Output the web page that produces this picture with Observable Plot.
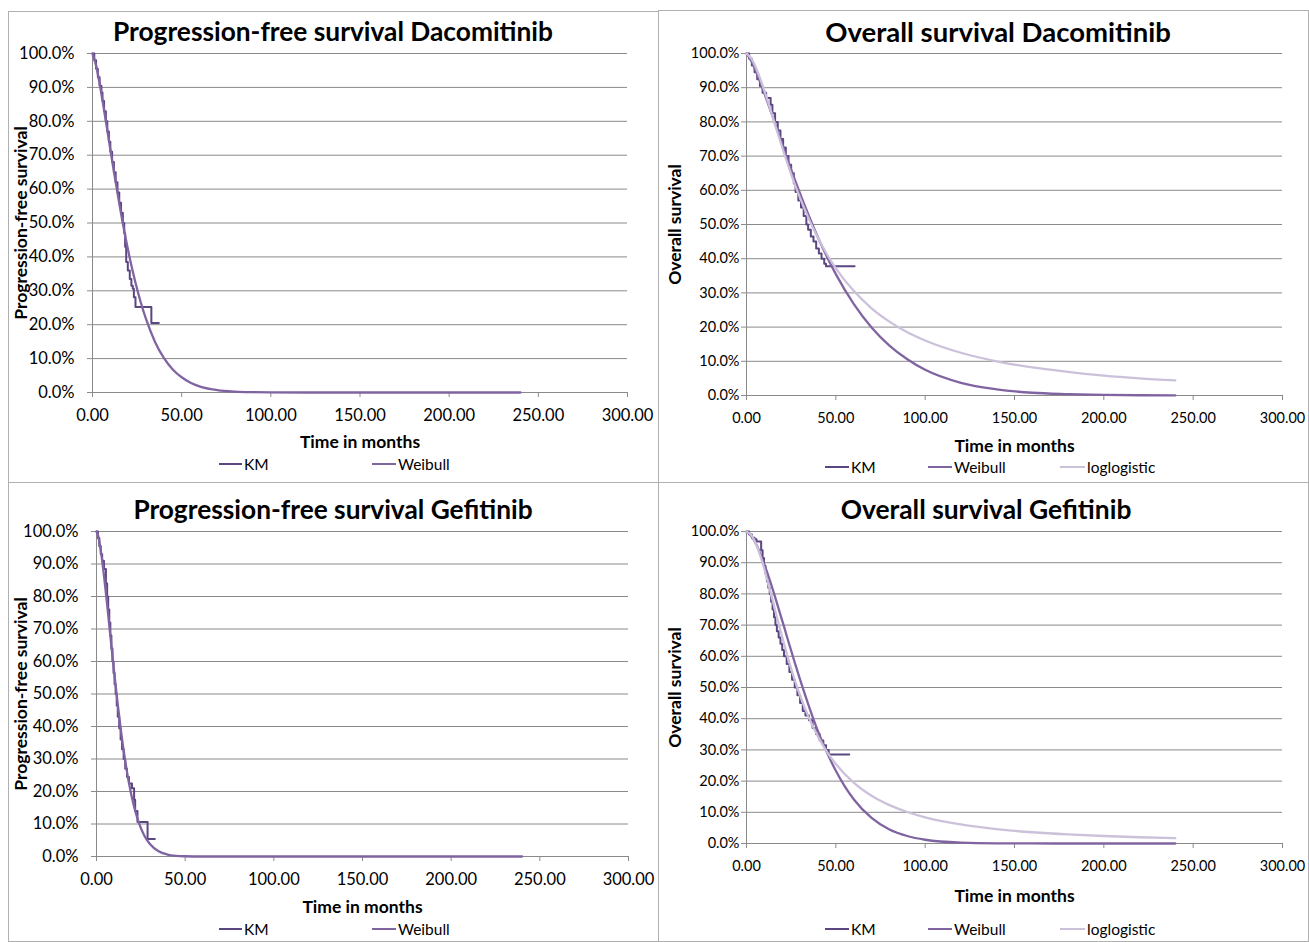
<!DOCTYPE html>
<html>
<head>
<meta charset="utf-8">
<script src="https://cdn.jsdelivr.net/npm/d3@7"></script>
<script src="https://cdn.jsdelivr.net/npm/@observablehq/plot@0.6"></script>
<style>
  body { margin: 0; background: #fff; }
  #root { position: relative; width: 1309px; height: 942px; font-family: Lato, "Open Sans", sans-serif; color: #000; overflow: hidden; }
  .border { position: absolute; border: 1px solid #b0b0b0; box-sizing: border-box; }
  .title { position: absolute; transform: translate(-50%, -50%); font-weight: bold; white-space: nowrap; }
  .chart { position: absolute; }
  .leg { position: absolute; transform: translateY(-50%); display: flex; align-items: center; font-size: 15.5px; white-space: nowrap; }
  .leg span.sw { display: inline-block; height: 2.5px; margin-right: 2px; }
</style>
</head>
<body>
<div id="root"></div>
<script>
// ---------- data ----------
const xTicks = [0, 50, 100, 150, 200, 250, 300];
const yTicks = [0, 0.1, 0.2, 0.3, 0.4, 0.5, 0.6, 0.7, 0.8, 0.9, 1.0];
const seriesNames = ["KM", "Weibull", "loglogistic"];
const seriesColors = ["#5a4681", "#8064a2", "#ccc1da"];

// Progression-free survival Dacomitinib
const pfsDacoKM_t = [0, 1, 2, 3, 4, 5, 5.6, 6.5, 7.5, 8.3, 9.2, 10, 11, 12, 13, 14, 15, 16, 17, 17.8, 18.3, 18.9, 19.8, 20.9, 21.8, 22.6, 23.2, 24.1, 33.0, 37.2];
const pfsDacoKM_s = [1, 0.98, 0.955, 0.93, 0.905, 0.885, 0.86, 0.83, 0.80, 0.77, 0.74, 0.71, 0.68, 0.65, 0.62, 0.59, 0.56, 0.53, 0.50, 0.47, 0.43, 0.385, 0.36, 0.335, 0.315, 0.306, 0.281, 0.252, 0.205, 0.205];
const pfsDacoWeib_t = [0, 2, 4, 6, 8, 10, 12, 15, 18, 21, 24, 27, 30, 35, 40, 45, 50, 55, 60, 70, 80, 90, 100, 120, 150, 200, 240];
const pfsDacoWeib_s = [1, 0.965, 0.911, 0.849, 0.784, 0.717, 0.652, 0.558, 0.471, 0.394, 0.326, 0.267, 0.217, 0.150, 0.102, 0.068, 0.045, 0.029, 0.018, 0.007, 0.0025, 0.0009, 0.0003, 0, 0, 0, 0];

// Overall survival Dacomitinib
const osDacoKM_t = [0, 1.5, 3, 4.5, 6, 7.5, 9, 11, 13.5, 14.5, 16, 17.5, 19, 20.5, 22, 23.5, 25, 26.5, 27.5, 29, 30.5, 32, 33.5, 34.5, 36, 37.5, 39, 40.5, 42, 43.5, 44.5, 60.5];
const osDacoKM_s = [1, 0.985, 0.965, 0.945, 0.925, 0.905, 0.885, 0.87, 0.85, 0.825, 0.80, 0.775, 0.75, 0.725, 0.70, 0.675, 0.65, 0.62, 0.595, 0.57, 0.55, 0.525, 0.50, 0.485, 0.465, 0.45, 0.43, 0.415, 0.40, 0.385, 0.378, 0.378];
const osDacoFit_t = [0, 3, 6, 9, 12, 15, 18, 21, 24, 27, 30, 35, 40, 45, 50, 60, 70, 80, 90, 100, 120, 140, 160, 180, 200, 220, 240];
const osDacoWeib_s = [1, 0.975, 0.939, 0.898, 0.854, 0.810, 0.764, 0.719, 0.675, 0.632, 0.590, 0.524, 0.462, 0.406, 0.355, 0.268, 0.199, 0.146, 0.106, 0.075, 0.037, 0.018, 0.008, 0.004, 0.0016, 0.0007, 0.0003];
const osDacoLogl_s = [1, 0.983, 0.949, 0.907, 0.859, 0.809, 0.758, 0.709, 0.662, 0.618, 0.577, 0.515, 0.461, 0.413, 0.372, 0.306, 0.255, 0.216, 0.185, 0.161, 0.125, 0.100, 0.082, 0.069, 0.058, 0.050, 0.044];

// Progression-free survival Gefitinib
const pfsGefKM_t = [0, 0.8, 1.6, 2.4, 3.2, 4.2, 5.3, 6, 6.6, 7.2, 7.8, 8.4, 9, 9.6, 10.2, 10.8, 11.4, 12, 12.8, 13.6, 14.4, 15.3, 16.2, 17.2, 18.3, 20, 21.2, 21.8, 23.1, 28.8, 32.9];
const pfsGefKM_s = [1, 0.98, 0.955, 0.93, 0.91, 0.885, 0.84, 0.80, 0.76, 0.72, 0.68, 0.64, 0.60, 0.565, 0.53, 0.50, 0.465, 0.43, 0.395, 0.36, 0.33, 0.30, 0.27, 0.245, 0.225, 0.21, 0.175, 0.14, 0.106, 0.054, 0.054];
const pfsGefWeib_t = [0, 1, 2, 3, 4, 5, 6, 7, 8, 9, 10, 12, 14, 16, 18, 20, 22, 24, 27, 30, 35, 40, 45, 50, 60, 80, 120, 160, 200, 240];
const pfsGefWeib_s = [1, 0.985, 0.956, 0.918, 0.874, 0.826, 0.775, 0.722, 0.669, 0.617, 0.565, 0.467, 0.378, 0.301, 0.235, 0.181, 0.137, 0.102, 0.064, 0.039, 0.016, 0.006, 0.002, 0.0007, 0, 0, 0, 0, 0, 0];

// Overall survival Gefitinib
const osGefKM_t = [0, 1.5, 3, 4.5, 5.6, 8.2, 9, 9.8, 10.6, 11.4, 12.2, 13, 13.8, 14.6, 15.4, 16.2, 17, 18, 19, 20, 21, 22.5, 24, 25.5, 27, 28.5, 30, 31.5, 33, 35, 37, 39, 41, 43, 44.5, 46, 57.5];
const osGefKM_s = [1, 0.99, 0.98, 0.975, 0.968, 0.94, 0.915, 0.89, 0.865, 0.84, 0.82, 0.80, 0.775, 0.75, 0.725, 0.70, 0.68, 0.66, 0.64, 0.62, 0.60, 0.575, 0.55, 0.525, 0.50, 0.475, 0.45, 0.425, 0.41, 0.395, 0.37, 0.35, 0.33, 0.315, 0.30, 0.285, 0.285];
const osGefWeib_t = [0, 3, 6, 9, 12, 15, 18, 21, 24, 27, 30, 35, 40, 45, 50, 55, 60, 70, 80, 90, 100, 120, 140, 160, 180, 200, 220, 240];
const osGefWeib_s = [1, 0.984, 0.952, 0.910, 0.862, 0.809, 0.752, 0.695, 0.637, 0.580, 0.525, 0.439, 0.360, 0.292, 0.233, 0.183, 0.142, 0.082, 0.045, 0.024, 0.012, 0.0027, 0.0005, 0.0001, 0, 0, 0, 0];
const osGefLogl_t = [0, 3, 6, 9, 12, 15, 18, 21, 24, 27, 30, 35, 40, 45, 50, 60, 70, 80, 90, 100, 120, 140, 160, 180, 200, 220, 240];
const osGefLogl_s = [1, 0.986, 0.950, 0.899, 0.837, 0.771, 0.704, 0.640, 0.579, 0.524, 0.474, 0.402, 0.343, 0.294, 0.255, 0.195, 0.153, 0.123, 0.101, 0.084, 0.061, 0.046, 0.036, 0.029, 0.024, 0.020, 0.017];

// ---------- helpers ----------
const rows = (ts, ss) => ts.map((t, i) => ({t, s: ss[i]}));
const root = document.getElementById("root");

function addDiv(cls, style, html) {
  const d = document.createElement("div");
  d.className = cls;
  Object.assign(d.style, style);
  if (html != null) d.innerHTML = html;
  root.appendChild(d);
  return d;
}

function panel(cfg) {
  addDiv("border", {left: cfg.box[0] + "px", top: cfg.box[1] + "px", width: cfg.box[2] + "px", height: cfg.box[3] + "px"});
  addDiv("title", {left: cfg.titleX + "px", top: cfg.titleY + "px", fontSize: cfg.titleSize + "px"}, cfg.title);

  const lines = cfg.series.map((sr) => Plot.line(sr.data, {
    x: "t", y: "s",
    curve: sr.step ? "step-after" : "monotone-x",
    stroke: seriesColors[sr.k],
    strokeWidth: sr.step ? 2 : 2.3
  }));

  const chart = Plot.plot({
    width: cfg.w, height: cfg.h,
    marginLeft: cfg.mL, marginRight: cfg.mR, marginTop: cfg.mT, marginBottom: cfg.mB,
    style: {fontFamily: "Lato, 'Open Sans', sans-serif", fontSize: cfg.tickSize + "px", color: "#000", background: "transparent", overflow: "visible"},
    x: {domain: [0, 300]},
    y: {domain: [0, 1]},
    marks: [
      Plot.gridY(yTicks, {stroke: "#8a8a8a", strokeOpacity: 1, strokeWidth: 1}),
      Plot.axisY(yTicks, {tickFormat: d3.format(".1%"), tickSize: 5, tickPadding: cfg.yPad, label: null, stroke: "#8a8a8a"}),
      Plot.axisX(xTicks, {tickFormat: d3.format(".2f"), tickSize: 5, tickPadding: 12, label: null, stroke: "#8a8a8a"}),
      Plot.ruleX([0], {stroke: "#8a8a8a"}),
      Plot.ruleY([0], {stroke: "#8a8a8a"}),
      ...lines,
      Plot.text(["Time in months"], {frameAnchor: "bottom", textAnchor: "middle", dy: cfg.xLabDy, fontWeight: "bold", fontSize: 17.5}),
      Plot.text([cfg.yLabel], {frameAnchor: "left", textAnchor: "middle", dx: -cfg.yLabDx, rotate: -90, fontWeight: "bold", fontSize: 17.5})
    ]
  });
  const holder = addDiv("chart", {left: cfg.left + "px", top: cfg.top + "px"});
  holder.appendChild(chart);

  cfg.legend.forEach((it) => {
    const d = addDiv("leg", {left: it.x + "px", top: cfg.legY + "px"});
    d.innerHTML = `<span class="sw" style="width:${it.w}px;background:${seriesColors[it.k]}"></span><span>${seriesNames[it.k]}</span>`;
  });
}

// Top-left
panel({
  box: [8, 11, 651, 472], title: "Progression-free survival Dacomitinib", titleX: 333, titleY: 31, titleSize: 26.3, tickSize: 16.5,
  left: 8, top: 45, w: 650, h: 410, mL: 84, mR: 31, mT: 8, mB: 63, yPad: 13,
  xLabDy: 55, yLabel: "Progression-free survival", yLabDx: 71,
  series: [{k: 0, step: true, data: rows(pfsDacoKM_t, pfsDacoKM_s)}, {k: 1, data: rows(pfsDacoWeib_t, pfsDacoWeib_s)}],
  legY: 464, legend: [{k: 0, x: 219, w: 23}, {k: 1, x: 372, w: 24}]
});
// Top-right
panel({
  box: [658, 10, 651, 473], title: "Overall survival Dacomitinib", titleX: 998, titleY: 31, titleSize: 27.5, tickSize: 14.5,
  left: 658, top: 45, w: 651, h: 410, mL: 88, mR: 27, mT: 8, mB: 60, yPad: 2,
  xLabDy: 56, yLabel: "Overall survival", yLabDx: 71,
  series: [{k: 0, step: true, data: rows(osDacoKM_t, osDacoKM_s)}, {k: 1, data: rows(osDacoFit_t, osDacoWeib_s)}, {k: 2, data: rows(osDacoFit_t, osDacoLogl_s)}],
  legY: 467, legend: [{k: 0, x: 825, w: 24}, {k: 1, x: 928, w: 24}, {k: 2, x: 1060, w: 25}]
});
// Bottom-left
panel({
  box: [8, 482, 651, 460], title: "Progression-free survival Gefitinib", titleX: 333, titleY: 509, titleSize: 26.3, tickSize: 16.5,
  left: 8, top: 522, w: 650, h: 400, mL: 88, mR: 30, mT: 9, mB: 66, yPad: 13,
  xLabDy: 56, yLabel: "Progression-free survival", yLabDx: 75,
  series: [{k: 0, step: true, data: rows(pfsGefKM_t, pfsGefKM_s)}, {k: 1, data: rows(pfsGefWeib_t, pfsGefWeib_s)}],
  legY: 929, legend: [{k: 0, x: 219, w: 23}, {k: 1, x: 372, w: 24}]
});
// Bottom-right
panel({
  box: [658, 482, 651, 460], title: "Overall survival Gefitinib", titleX: 986, titleY: 509, titleSize: 26.4, tickSize: 14.5,
  left: 658, top: 522, w: 651, h: 400, mL: 88, mR: 27, mT: 9, mB: 79, yPad: 2,
  xLabDy: 58, yLabel: "Overall survival", yLabDx: 71,
  series: [{k: 0, step: true, data: rows(osGefKM_t, osGefKM_s)}, {k: 1, data: rows(osGefWeib_t, osGefWeib_s)}, {k: 2, data: rows(osGefLogl_t, osGefLogl_s)}],
  legY: 929, legend: [{k: 0, x: 825, w: 24}, {k: 1, x: 928, w: 24}, {k: 2, x: 1060, w: 25}]
});
</script>
</body>
</html>
